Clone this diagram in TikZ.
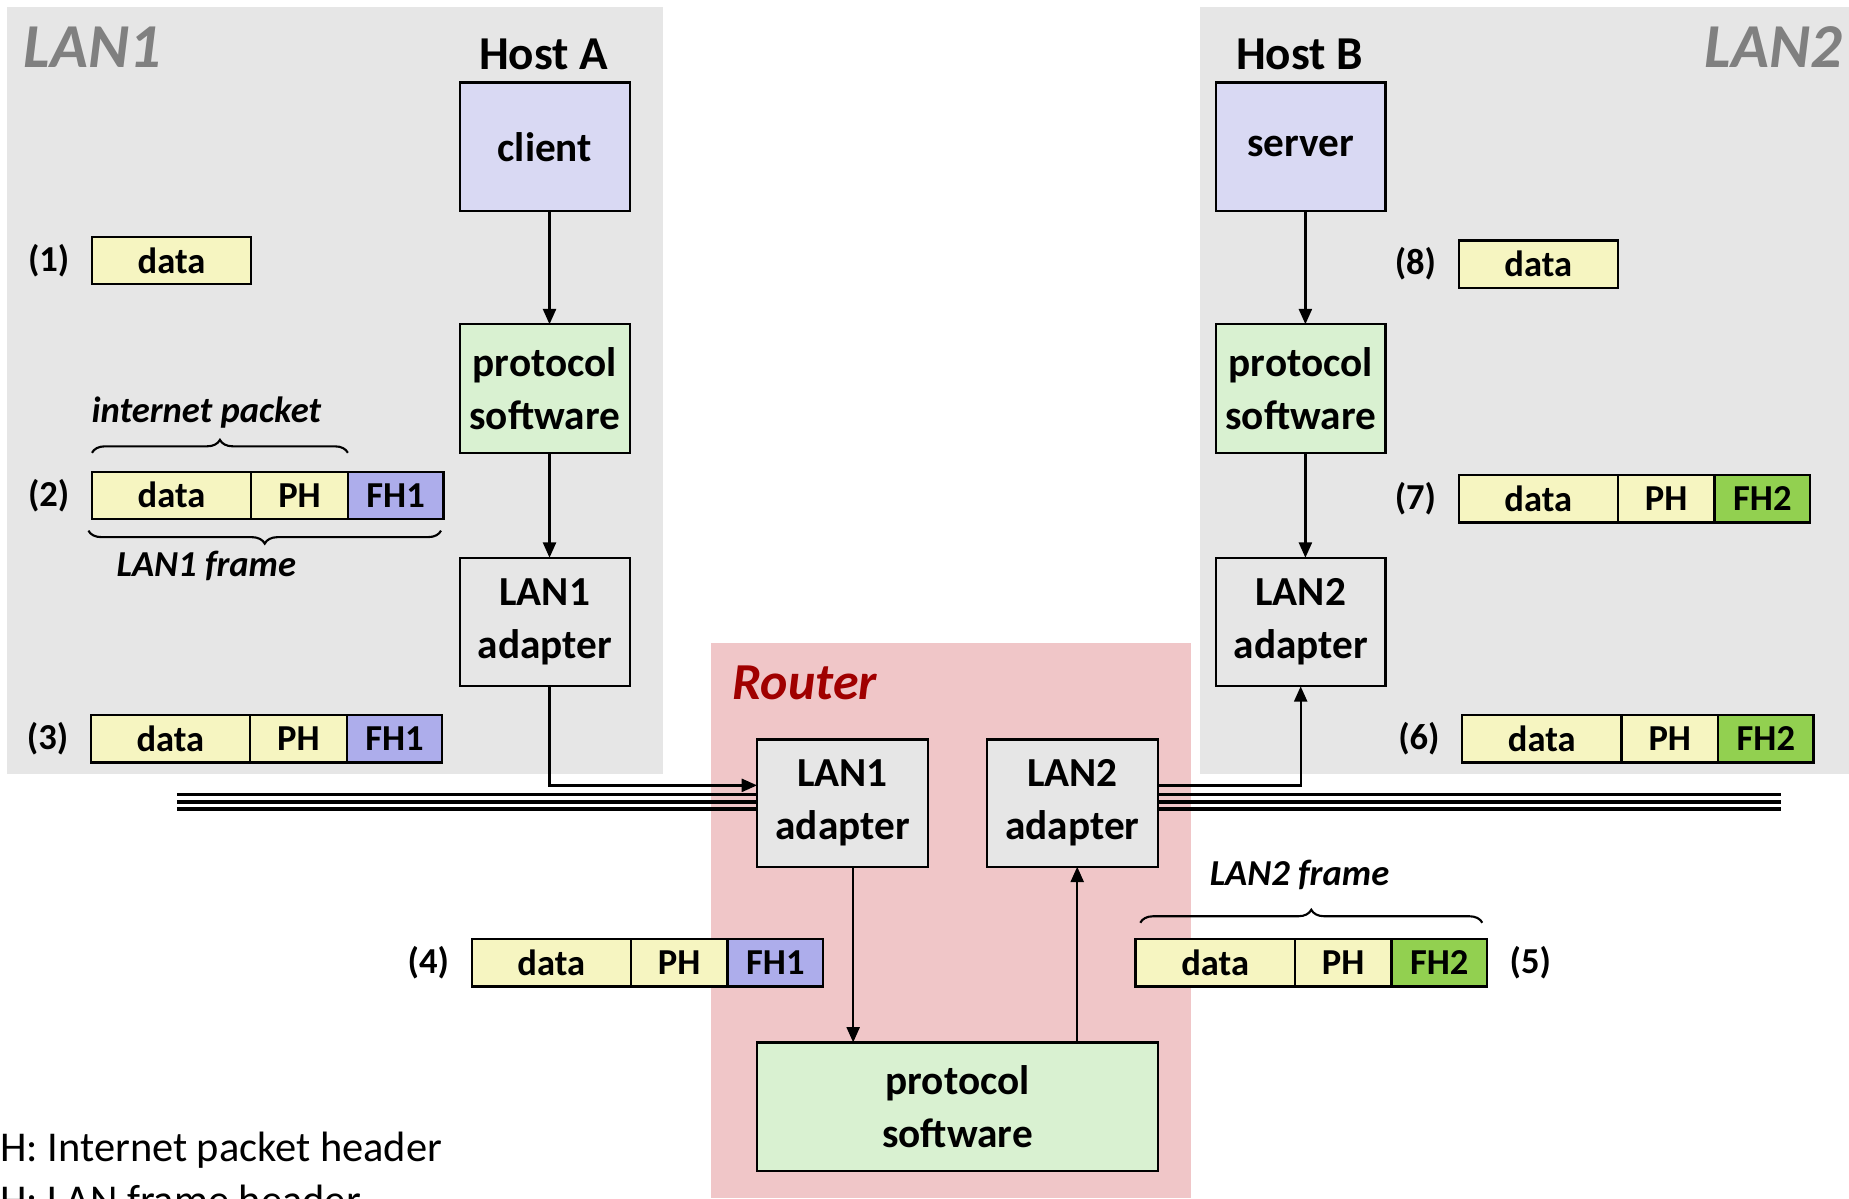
\documentclass[tikz,border=0pt]{standalone}
\usepackage{fontspec}
\setmainfont{Carlito}
\usepackage{tikz}
\usetikzlibrary{positioning,arrows.meta,decorations.pathreplacing}
\definecolor{lanfill}{HTML}{E6E6E6}
\definecolor{routerfill}{HTML}{F0C6C8}
\definecolor{appfill}{HTML}{D9D9F3}
\definecolor{protofill}{HTML}{D9F1D1}
\definecolor{datafill}{HTML}{F6F5C1}
\definecolor{fhblue}{HTML}{ADADEB}
\definecolor{fhgreen}{HTML}{92D050}
\definecolor{routerred}{HTML}{A00000}
\definecolor{langrey}{HTML}{808080}

\begin{document}
\begin{tikzpicture}[x=1pt,y=-1pt,>={Triangle[length=13pt,width=11pt]},
  box/.style={draw=black,line width=2pt,minimum width=144pt,minimum height=109pt,inner sep=0pt,outer sep=0pt,align=center,font=\fontsize{35}{45}\selectfont\bfseries},
  cell/.style={draw=black,line width=2pt,minimum height=40pt,inner sep=0pt,outer sep=0pt,font=\fontsize{31}{36}\selectfont\bfseries},
  datacell/.style={cell,fill=datafill,minimum width=135pt},
  phcell/.style={cell,fill=datafill,minimum width=82pt},
  fhonecell/.style={cell,fill=fhblue,minimum width=81pt},
  fhtwocell/.style={cell,fill=fhgreen,minimum width=81pt},
  stepnum/.style={inner sep=0pt,font=\fontsize{31}{36}\selectfont\bfseries},
  hostname/.style={inner sep=0pt,font=\fontsize{40}{48}\selectfont\bfseries},
  lanname/.style={inner sep=0pt,text=langrey,font=\fontsize{53}{60}\selectfont\bfseries\itshape},
  framename/.style={inner sep=0pt,font=\fontsize{31}{36}\selectfont\bfseries\itshape},
  note/.style={anchor=base west,inner sep=0pt,font=\fontsize{36}{42}\selectfont},
  wire/.style={line width=2pt},
  bus/.style={line width=2.8pt},
  brc/.style={line width=1.8pt,decorate,decoration={brace,amplitude=11pt}}]
\useasboundingbox (0,0) rectangle (1568,1016);
\clip (0,0) rectangle (1568,1016);
\fill[lanfill] (6,6) rectangle (562,656);
\fill[lanfill] (1018,6) rectangle (1568,656);
\fill[routerfill] (603,545) rectangle (1010,1016);

\node[lanname,anchor=west] (lanA) at (20,40) {LAN1};
\node[lanname,anchor=east] (lanB) at (1562,40) {LAN2};
\node[inner sep=0pt,anchor=west,text=routerred,font=\fontsize{44}{52}\selectfont\bfseries\itshape] (rtr) at (621,579) {Router};

\node[hostname] (hA) at (461,46) {Host A};
\node[box,fill=appfill] (client) at (462,124.5) {client};
\node[box,fill=protofill] (protA) at (462,329.5) {protocol\\software};
\node[box,fill=lanfill] (adA) at (462,527.5) {LAN1\\adapter};

\node[hostname] (hB) at (1102,46) {Host B};
\node[box,fill=appfill] (server) at (1103,124.5) {server};
\node[box,fill=protofill] (protB) at (1103,329.5) {protocol\\software};
\node[box,fill=lanfill] (adB) at (1103,527.5) {LAN2\\adapter};

\node[box,fill=lanfill,minimum width=145pt,minimum height=108pt] (radA) at (714.5,681) {LAN1\\adapter};
\node[box,fill=lanfill,minimum width=145pt,minimum height=108pt] (radB) at (909.5,681) {LAN2\\adapter};
\node[box,fill=protofill,minimum width=340pt] (rproto) at (812,938.5) {protocol\\software};

\node[datacell,anchor=west] (d1) at (78,221) {data};
\node[stepnum,left=19pt of d1] (n1) {(1)};

\node[datacell,anchor=west] (d2) at (78,420) {data};
\node[phcell,right=0pt of d2] (p2) {PH};
\node[fhonecell,right=0pt of p2] (f2) {FH1};
\node[stepnum,left=19pt of d2] (n2) {(2)};

\node[datacell,anchor=west] (d3) at (77,626.5) {data};
\node[phcell,right=0pt of d3] (p3) {PH};
\node[fhonecell,right=0pt of p3] (f3) {FH1};
\node[stepnum,left=19pt of d3] (n3) {(3)};

\node[datacell,anchor=west] (d4) at (400,816.5) {data};
\node[phcell,right=0pt of d4] (p4) {PH};
\node[fhonecell,right=0pt of p4] (f4) {FH1};
\node[stepnum,left=19pt of d4] (n4) {(4)};

\node[datacell,anchor=west] (d5) at (963,816.5) {data};
\node[phcell,right=0pt of d5] (p5) {PH};
\node[fhtwocell,right=0pt of p5] (f5) {FH2};
\node[stepnum,right=19pt of f5] (n5) {(5)};

\node[datacell,anchor=west] (d6) at (1240,626.5) {data};
\node[phcell,right=0pt of d6] (p6) {PH};
\node[fhtwocell,right=0pt of p6] (f6) {FH2};
\node[stepnum,left=19pt of d6] (n6) {(6)};

\node[datacell,anchor=west] (d7) at (1237,423) {data};
\node[phcell,right=0pt of d7] (p7) {PH};
\node[fhtwocell,right=0pt of p7] (f7) {FH2};
\node[stepnum,left=19pt of d7] (n7) {(7)};

\node[datacell,anchor=west] (d8) at (1237,224) {data};
\node[stepnum,left=19pt of d8] (n8) {(8)};

\node[framename] (ipk) at (175,350) {internet packet};
\draw[brc] ([yshift=16pt]d2.north west) -- ([yshift=16pt]p2.north east);
\node[framename] (frA) at (175,480) {LAN1 frame};
\draw[brc] ([xshift=-2pt,yshift=-10pt]f2.south east) -- ([xshift=-3pt,yshift=-10pt]d2.south west);
\node[framename] (frB) at (1102,742) {LAN2 frame};
\draw[brc] ([xshift=4pt,yshift=14pt]d5.north west) -- ([xshift=-4pt,yshift=14pt]f5.north east);

\coordinate (busL) at (150,680);
\coordinate (busR) at (1510,680);
\foreach \d in {-6,0,6} {
  \draw[bus] ([yshift=\d pt]busL) -- ([yshift=\d pt]busL -| radA.west);
  \draw[bus] ([yshift=\d pt]busR -| radB.east) -- ([yshift=\d pt]busR);
}

\draw[wire,->] ([xshift=4pt]client.south) -- ([xshift=4pt]protA.north);
\draw[wire,->] ([xshift=4pt]protA.south) -- ([xshift=4pt]adA.north);
\draw[wire,->] ([xshift=4pt]adA.south) |- ([yshift=15pt]radA.west);
\draw[wire,->] ([xshift=9pt]radA.south) -- ([xshift=9pt]radA.south |- rproto.north);
\draw[wire,->] ([xshift=4pt]radB.south |- rproto.north) -- ([xshift=4pt]radB.south);
\draw[wire,->] ([yshift=15pt]radB.east) -| (adB.south);
\draw[wire,->] ([xshift=4pt]server.south) -- ([xshift=4pt]protB.north);
\draw[wire,->] ([xshift=4pt]protB.south) -- ([xshift=4pt]adB.north);

\node[note] (phnote) at (0,985) {H: Internet packet header};
\node[note] (fhnote) at (0,1030) {H: LAN frame header};
\end{tikzpicture}
\end{document}
